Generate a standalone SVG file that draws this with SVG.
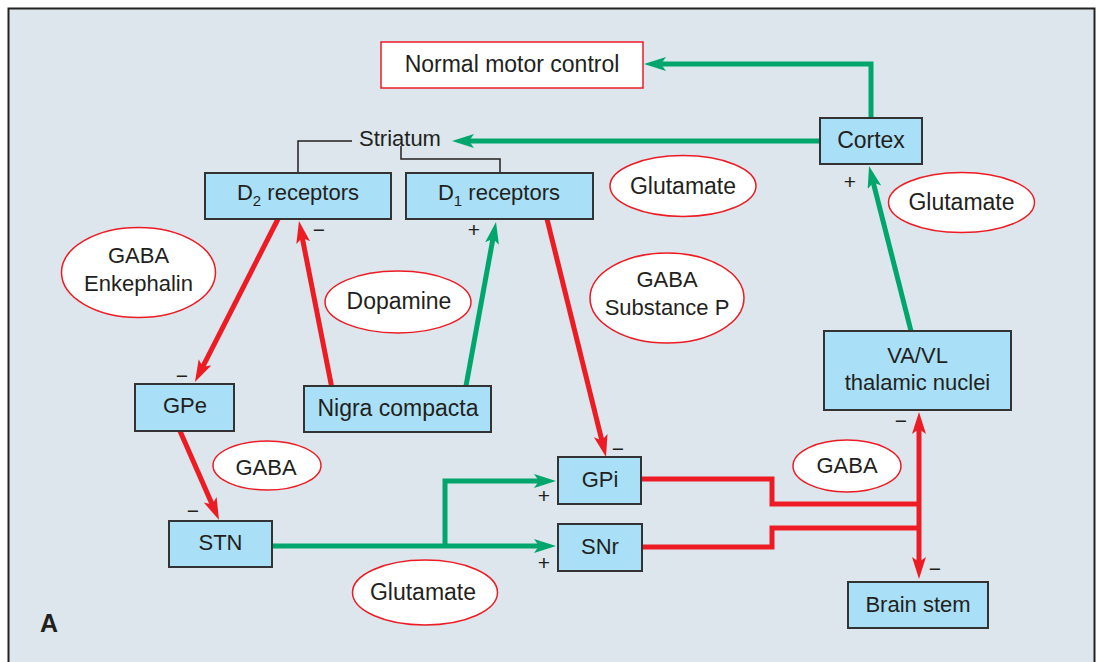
<svg xmlns="http://www.w3.org/2000/svg" width="1099" height="662" viewBox="0 0 1099 662">
<defs>
<marker id="ar" markerUnits="userSpaceOnUse" markerWidth="24" markerHeight="16" refX="12" refY="7" orient="auto-start-reverse" viewBox="0 0 24 16"><path d="M0,0 L22,7 L0,14 L5,7 Z" fill="#ed1c24"/></marker>
<marker id="ag" markerUnits="userSpaceOnUse" markerWidth="24" markerHeight="16" refX="12" refY="7" orient="auto-start-reverse" viewBox="0 0 24 16"><path d="M0,0 L22,7 L0,14 L5,7 Z" fill="#00a66b"/></marker>
</defs>
<style>
text{font-family:"Liberation Sans",Arial,sans-serif;font-size:22px;fill:#231f20;text-anchor:middle}
.box{fill:#a9dff7;stroke:#333;stroke-width:2}
.lab{fill:#fff;stroke:#ed1c24;stroke-width:1.5}
.r{fill:none;stroke:#ed1c24;stroke-width:5}
.g{fill:none;stroke:#00a66b;stroke-width:5}
.thin{fill:none;stroke:#231f20;stroke-width:1.5}
.s{font-size:21px}
.w{font-size:23px}
</style>
<rect x="0" y="0" width="1099" height="662" fill="#fff"/>
<rect x="8.5" y="8.5" width="1086" height="670" fill="#dce6ec" stroke="#222" stroke-width="2"/>

<g id="connectors">
<path class="thin" d="M352,141 L298,141 L298,173"/>
<path class="thin" d="M401,146 L401,159 L500,159 L500,173"/>
<path class="g" d="M871,118 L871,64 L654,64" marker-end="url(#ag)"/>
<path class="g" d="M820,141 L462,141" marker-end="url(#ag)"/>
<path class="g" d="M911,331 L871.5,175.7" marker-end="url(#ag)"/>
<path class="r" d="M278,219 L199.5,373.1" marker-end="url(#ar)"/>
<path class="r" d="M331.5,386 L300.9,230.8" marker-end="url(#ar)"/>
<path class="g" d="M466,386 L494.2,231.8" marker-end="url(#ag)"/>
<path class="r" d="M547,219 L603.6,447.3" marker-end="url(#ar)"/>
<path class="r" d="M180,431 L215,510.8" marker-end="url(#ar)"/>
<path class="g" d="M272,546 L546,546" marker-end="url(#ag)"/>
<path class="g" d="M445,546 L445,481 L546,481" marker-end="url(#ag)"/>
<path class="r" d="M641,479 L772,479 L772,504 L919,504"/>
<path class="r" d="M642,547 L772,547 L772,528 L919,528"/>
<path class="r" d="M919,569 L919,422" marker-start="url(#ar)" marker-end="url(#ar)"/>
</g>

<g id="normal-motor-control"><rect x="381" y="42" width="262" height="46" fill="#fff" stroke="#ed1c24" stroke-width="1.5"/><text class="w" x="512" y="72">Normal motor control</text></g>
<g id="striatum"><text x="400" y="146">Striatum</text></g>
<g id="d2"><rect class="box" x="205" y="173" width="186" height="46"/><text x="298" y="200">D<tspan font-size="15" dy="6">2</tspan><tspan dy="-6"> receptors</tspan></text></g>
<g id="d1"><rect class="box" x="406" y="173" width="187" height="46"/><text x="499" y="200">D<tspan font-size="15" dy="6">1</tspan><tspan dy="-6"> receptors</tspan></text></g>
<g id="cortex"><rect class="box" x="820" y="118" width="102" height="46"/><text class="w" x="871" y="148">Cortex</text></g>
<g id="gpe"><rect class="box" x="135" y="384" width="99" height="47"/><text x="185" y="413">GPe</text></g>
<g id="nigra"><rect class="box" x="304" y="386" width="187" height="46"/><text class="w" x="398" y="416">Nigra compacta</text></g>
<g id="stn"><rect class="box" x="169" y="521" width="103" height="46"/><text x="220.5" y="550">STN</text></g>
<g id="gpi"><rect class="box" x="558" y="457" width="83" height="47"/><text x="600" y="487">GPi</text></g>
<g id="snr"><rect class="box" x="558" y="524" width="84" height="47"/><text x="600" y="554">SNr</text></g>
<g id="vavl"><rect class="box" x="824" y="331" width="187" height="79"/><text x="917.5" y="363">VA/VL</text><text x="917.5" y="390">thalamic nuclei</text></g>
<g id="brainstem"><rect class="box" x="848" y="582" width="140" height="46"/><text x="918" y="612">Brain stem</text></g>

<g id="labels">
<ellipse class="lab" cx="683" cy="186" rx="73" ry="30.5"/><text class="w" x="683" y="194">Glutamate</text>
<ellipse class="lab" cx="961.5" cy="202.5" rx="73" ry="30"/><text class="w" x="961.5" y="210">Glutamate</text>
<ellipse class="lab" cx="667" cy="298" rx="77" ry="45"/><text x="667" y="287">GABA</text><text x="667" y="315">Substance P</text>
<ellipse class="lab" cx="138.5" cy="272.5" rx="77" ry="45"/><text x="138.5" y="263">GABA</text><text x="138.5" y="291">Enkephalin</text>
<ellipse class="lab" cx="398" cy="302" rx="73" ry="31"/><text class="w" x="399" y="309">Dopamine</text>
<ellipse class="lab" cx="267" cy="465.5" rx="54" ry="24.5"/><text x="266" y="475">GABA</text>
<ellipse class="lab" cx="847" cy="466" rx="54" ry="26"/><text x="847" y="473">GABA</text>
<ellipse class="lab" cx="425" cy="592.5" rx="72.5" ry="32.5"/><text class="w" x="423" y="600">Glutamate</text>
</g>

<g id="signs">
<text class="s" x="319" y="237">−</text>
<text class="s" x="474" y="237">+</text>
<text class="s" x="850" y="189">+</text>
<text class="s" x="182" y="383">−</text>
<text class="s" x="193" y="518">−</text>
<text class="s" x="618" y="456">−</text>
<text class="s" x="544" y="503">+</text>
<text class="s" x="544" y="570">+</text>
<text class="s" x="901" y="428">−</text>
<text class="s" x="935" y="576">−</text>
</g>
<text x="49" y="632" style="font-weight:bold;font-size:25px">A</text>
</svg>
